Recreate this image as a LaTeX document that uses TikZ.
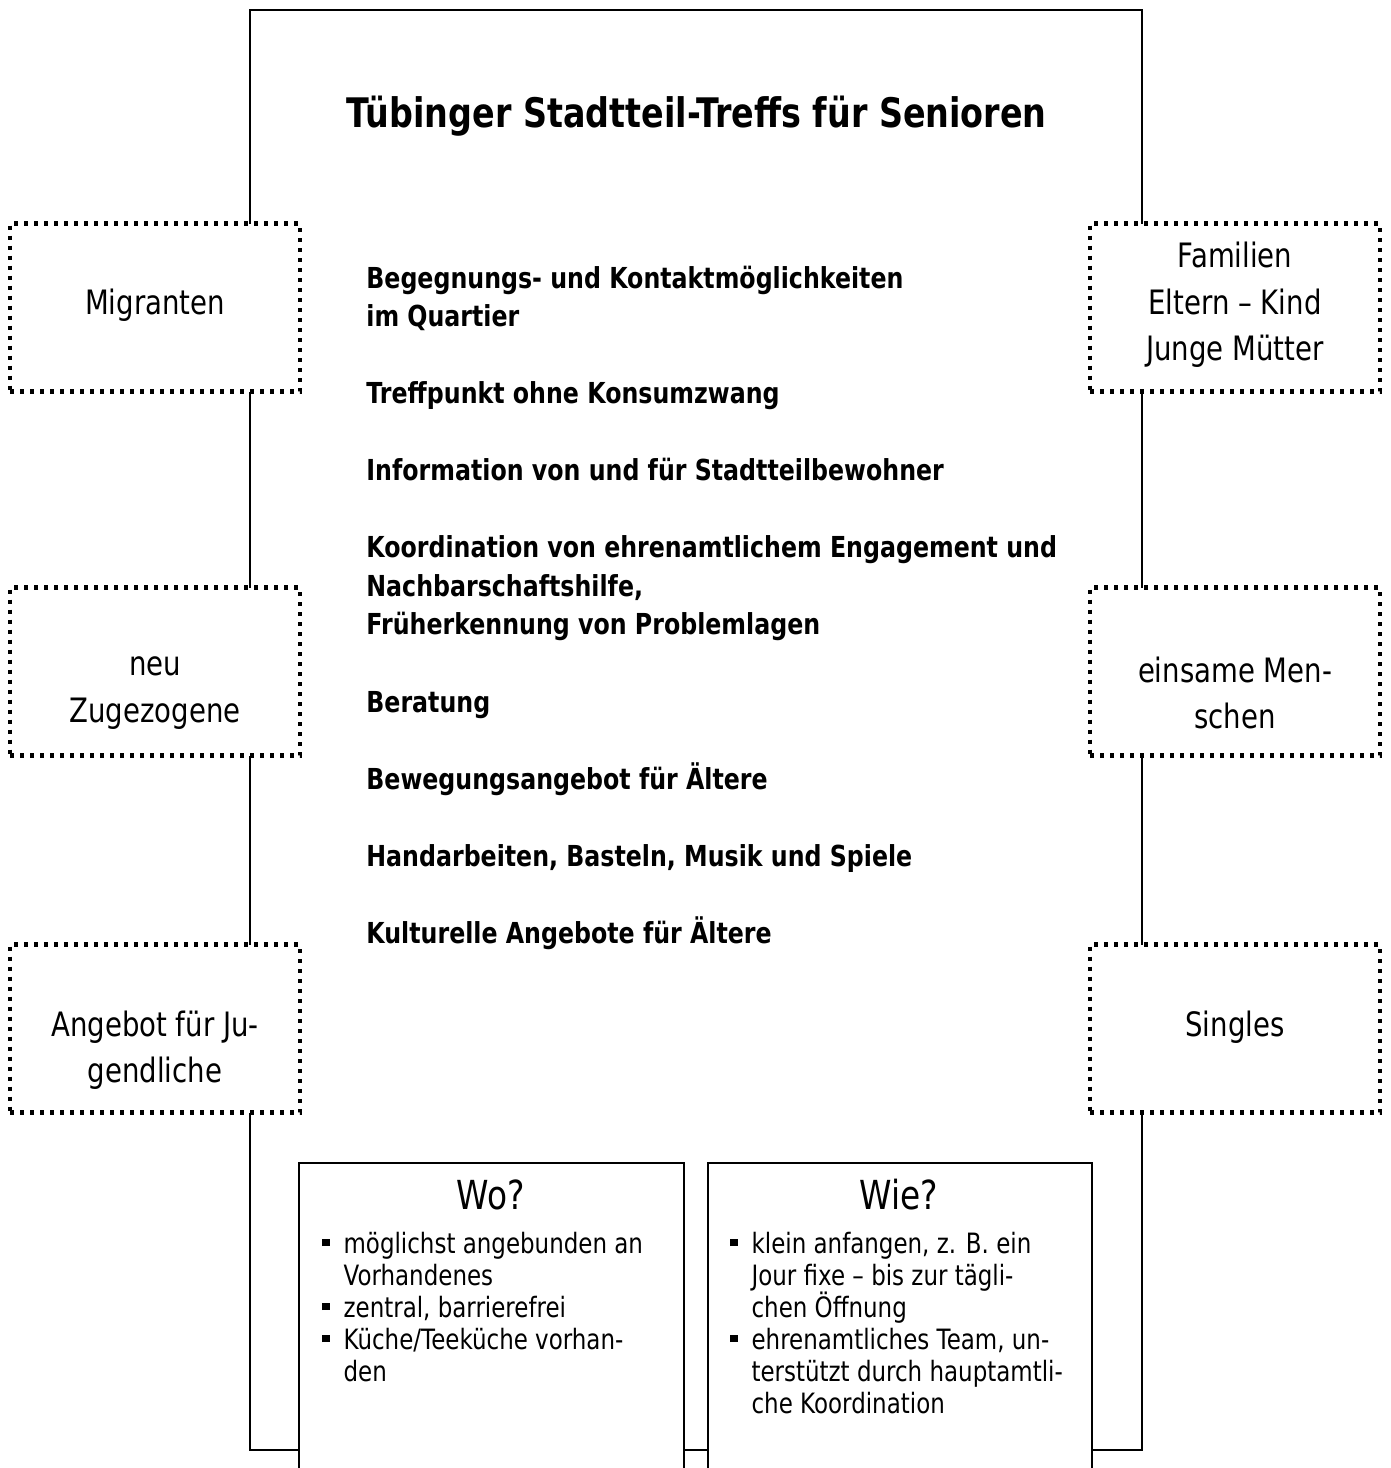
\documentclass[tikz,border=0pt]{standalone}
\usepackage{fontspec}
\setmainfont[FakeStretch=0.82]{DejaVu Sans}
\usetikzlibrary{positioning}

\newcommand\sqbul{\rule[3.5pt]{3.6pt}{3.6pt}}

\tikzset{
  frame/.style={line width=1pt},
  sidebox/.style={draw, line width=2.2pt, dash pattern=on 2pt off 3pt, fill=white,
    minimum width=145pt, minimum height=84pt, inner sep=0pt},
  sidetext/.style={align=center, inner sep=0pt, font=\fontsize{16.8}{23.25}\selectfont},
  item/.style={anchor=base west, inner sep=0pt, font=\fontsize{14.45}{19.25}\selectfont\bfseries},
  infobox/.style={draw, line width=0.8pt, fill=white, anchor=north west, inner sep=0pt,
    minimum height=170pt},
  head/.style={anchor=base, inner sep=0pt, font=\fontsize{20}{24}\selectfont},
  list/.style={anchor=base west, inner sep=0pt, font=\fontsize{14}{16}\selectfont}
}

\begin{document}
\begin{tikzpicture}[x=0.5pt, y=-0.5pt]
\useasboundingbox (0,0) rectangle (1391,1468);
\clip (0,0) rectangle (1391,1468);

% outer frame
\coordinate (ftl) at (250,10);
\coordinate (fbr) at (1142,1450);
\draw[frame] (ftl) rectangle (fbr);

% title
\node[anchor=base, inner sep=0pt, font=\fontsize{20.35}{24}\selectfont\bfseries] (title) at (696.5,127)
  {Tübinger Stadtteil-Treffs für Senioren};

% offers
\foreach \n/\yy/\txt in {
  1/288/{Begegnungs- und Kontaktmöglichkeiten},
  2/326/{im Quartier},
  3/403/{Treffpunkt ohne Konsumzwang},
  4/480/{Information von und für Stadtteilbewohner},
  5/557/{Koordination von ehrenamtlichem Engagement und},
  6/596/{Nachbarschaftshilfe,},
  7/634/{Früherkennung von Problemlagen},
  8/712/{Beratung},
  9/789/{Bewegungsangebot für Ältere},
  10/866/{Handarbeiten, Basteln, Musik und Spiele},
  11/943/{Kulturelle Angebote für Ältere}}
  \node[item] (item\n) at (366,\yy) {\txt};

% target groups left
\node[sidebox] (mig) at (155,307.5) {};
\node[sidetext] (migT) at (155,305) {Migranten};
\node[sidebox] (neu) at (155,671.5) {};
\node[sidetext] (neuT) at (155,693) {neu\\Zugezogene};
\node[sidebox] (jug) at (155,1028.5) {};
\node[sidetext] (jugT) at (155,1050) {Angebot für Ju-\\gendliche};

% target groups right
\node[sidebox] (fam) at (1235,307.5) {};
\node[sidetext] (famT) at (1235,305) {Familien\\Eltern – Kind\\Junge Mütter};
\node[sidebox] (ein) at (1235,671.5) {};
\node[sidetext] (einT) at (1235,693) {einsame Men-\\schen};
\node[sidebox] (sin) at (1235,1028.5) {};
\node[sidetext] (sinT) at (1235,1027) {Singles};

% where and how
\node[infobox, minimum width=192.5pt] (wo) at (298,1162) {};
\node[head] (woHead) at (490.5,1209) {Wo?};
\node[list] (woList) at (322,1253) {\begin{tabular}[t]{@{}l@{\hspace{7pt}}l@{}}
  \sqbul & möglichst angebunden an\\
         & Vorhandenes\\
  \sqbul & zentral, barrierefrei\\
  \sqbul & Küche/Teeküche vorhan-\\
         & den
  \end{tabular}};

\node[infobox, minimum width=192pt] (wie) at (707,1162) {};
\node[head] (wieHead) at (899,1209) {Wie?};
\node[list] (wieList) at (730,1253) {\begin{tabular}[t]{@{}l@{\hspace{7pt}}l@{}}
  \sqbul & klein anfangen, z. B. ein\\
         & Jour fixe – bis zur tägli-\\
         & \smash{chen Öffnung}\\
  \sqbul & ehrenamtliches Team, un-\\
         & terstützt durch hauptamtli-\\
         & che Koordination
  \end{tabular}};
\end{tikzpicture}
\end{document}
